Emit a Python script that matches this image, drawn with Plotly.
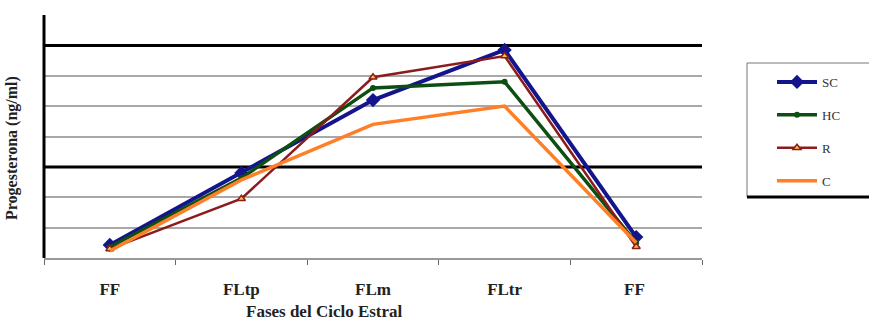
import plotly.graph_objects as go

categories = ["FF", "FLtp", "FLm", "FLtr", "FF "]
sc = [0.43, 2.8, 5.2, 6.85, 0.69]
hc = [0.36, 2.63, 5.6, 5.8, 0.5]
r = [0.3, 1.95, 5.95, 6.65, 0.37]
c = [0.23, 2.57, 4.4, 5.0, 0.5]
y_title = "Progesterona (ng/ml)"
x_title = "Fases del Ciclo Estral"

W, H = 869, 321
L, R_, T, B = 44, 167, 15, 63
pw, ph = W - L - R_, H - T - B

def px(x):
    return (x - L) / pw

def py(y):
    return (H - B - y) / ph

serif = "Liberation Serif, Times New Roman, serif"

fig = go.Figure()
fig.add_trace(go.Scatter(x=categories, y=sc, name="SC", mode="lines+markers",
                         line=dict(color="#14148c", width=4),
                         marker=dict(symbol="diamond", size=11, color="#14148c"),
                         legendgroup="a"))
fig.add_trace(go.Scatter(x=categories, y=hc, name="HC", mode="lines+markers",
                         line=dict(color="#0d4f12", width=3.5),
                         marker=dict(symbol="circle", size=6, color="#0d4f12"),
                         legendgroup="b"))
fig.add_trace(go.Scatter(x=categories, y=r, name="R", mode="lines+markers",
                         line=dict(color="#8c1c1c", width=2.5),
                         marker=dict(symbol="triangle-up", size=7, color="#f5c542",
                                     line=dict(color="#8c1c1c", width=1.5)),
                         legendgroup="c"))
fig.add_trace(go.Scatter(x=categories, y=c, name="C", mode="lines",
                         line=dict(color="#ff7f27", width=3.5),
                         legendgroup="d"))

shapes = []
for v in (3, 7):
    shapes.append(dict(type="line", xref="paper", yref="y", x0=0, x1=1, y0=v, y1=v,
                       line=dict(color="black", width=3), layer="below"))
# y axis thick line
shapes.append(dict(type="line", xref="paper", yref="paper", x0=0, x1=0, y0=0, y1=1,
                   line=dict(color="black", width=3)))
# legend box
lx0, lx1, ly0, ly1 = px(747), px(900), py(63), py(197)
shapes.append(dict(type="rect", xref="paper", yref="paper", x0=lx0, x1=lx1, y0=ly1, y1=ly0,
                   line=dict(color="#777", width=1)))
shapes.append(dict(type="line", xref="paper", yref="paper", x0=lx0, x1=lx1, y0=ly1, y1=ly1,
                   line=dict(color="black", width=3)))

annotations = [
    dict(text="<b>" + x_title + "</b>", x=px(324), y=py(311), xref="paper", yref="paper",
         showarrow=False, xanchor="center", yanchor="middle",
         font=dict(family=serif, size=17, color="#222")),
    dict(text="<b>" + y_title + "</b>", x=px(12), y=py(148), xref="paper", yref="paper",
         showarrow=False, xanchor="center", yanchor="middle", textangle=-90,
         font=dict(family=serif, size=16, color="#222")),
]

fig.update_layout(
    width=W, height=H,
    margin=dict(l=L, r=R_, t=T, b=B),
    paper_bgcolor="white", plot_bgcolor="white",
    showlegend=True,
    legend=dict(x=px(772), y=py(67), xanchor="left", yanchor="top",
                font=dict(family=serif, size=13, color="#333"),
                bgcolor="rgba(0,0,0,0)", borderwidth=0,
                traceorder="grouped", tracegroupgap=13, itemwidth=40),
    shapes=shapes,
    annotations=annotations,
    xaxis=dict(type="category", range=[-0.5, 4.5], tickson="boundaries",
               ticks="outside", ticklen=5, tickcolor="#666",
               showline=True, linecolor="#999", linewidth=1.5,
               showgrid=False, zeroline=False, ticklabelstandoff=15,
               tickfont=dict(family=serif, size=17, color="#222", weight="bold")),
    yaxis=dict(range=[0, 8], tickvals=[0, 1, 2, 4, 5, 6, 8], showticklabels=False, ticks="",
               showgrid=True, gridcolor="#a8a8a8", gridwidth=1.5,
               zeroline=False, showline=False),
)

fig.write_html("out.html")
